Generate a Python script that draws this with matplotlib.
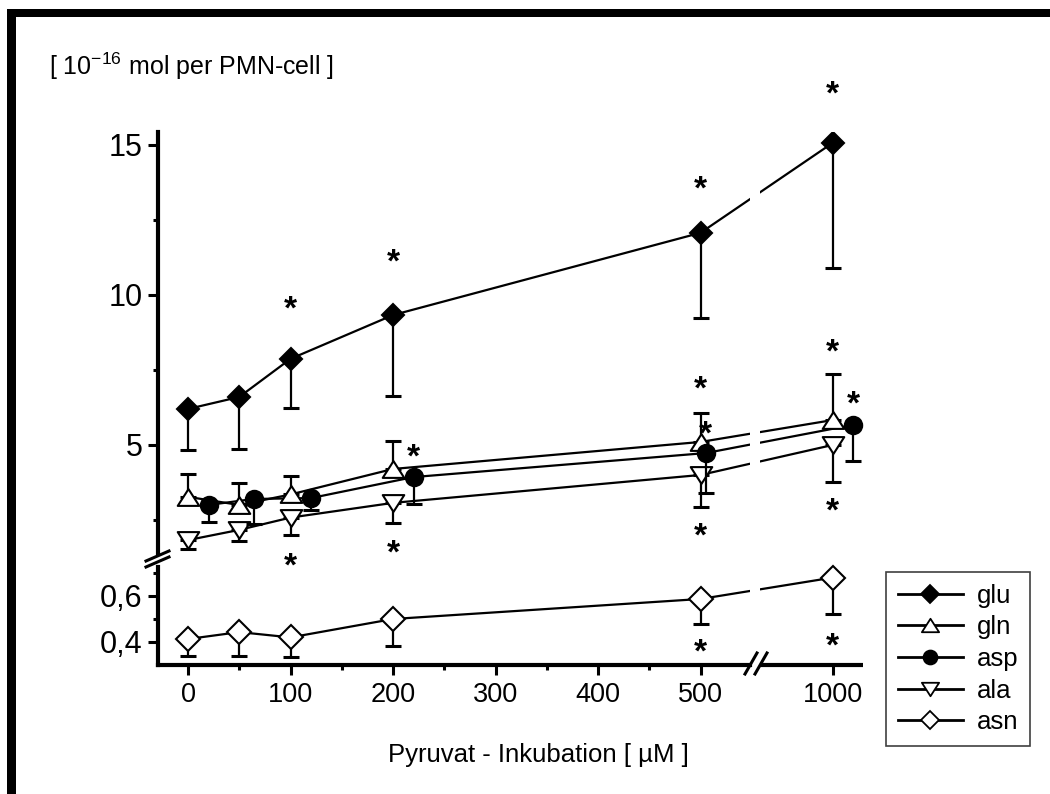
import numpy as np
import matplotlib
matplotlib.use("Agg")
import matplotlib.pyplot as plt
from matplotlib.lines import Line2D
from matplotlib.patches import Rectangle
from matplotlib.path import Path
import matplotlib.transforms as mtransforms

plt.rcParams['font.family'] = ['Liberation Sans', 'DejaVu Sans']
plt.rcParams['mathtext.fontset'] = 'custom'
plt.rcParams['mathtext.rm'] = 'Liberation Sans'
plt.rcParams['mathtext.default'] = 'regular'

# ---------------- data ----------------
x_conc = [0, 50, 100, 200, 500, 1000]
x_asp = [20, 64, 120, 220, 520, 1020]          # asp drawn slightly shifted

glu = [6.20, 6.60, 7.87, 9.33, 12.07, 15.07]
glu_err_lo = [1.37, 1.73, 1.63, 2.70, 2.83, 4.17]

gln = [3.27, 3.00, 3.35, 4.20, 5.10, 5.83]
gln_err_hi = [0.77, 0.72, 0.62, 0.93, 0.97, 1.54]

asp = [3.00, 3.20, 3.23, 3.93, 4.73, 5.67]
asp_err_lo = [0.57, 0.82, 0.40, 0.90, 1.33, 1.20]

ala = [1.83, 2.17, 2.58, 3.07, 4.00, 5.00]
ala_err_lo = [0.30, 0.37, 0.58, 0.67, 1.07, 1.23]

asn = [0.413, 0.443, 0.420, 0.500, 0.587, 0.680]
asn_err_lo = [0.073, 0.103, 0.085, 0.117, 0.107, 0.160]

# significance stars (x, y)
star_x = [100, 200, 500, 1000,      # glu
          500, 1000,                # gln
          220, 520, 1020,           # asp
          100, 200, 500, 1000,      # ala
          500, 1000]                # asn
star_y = [9.83, 11.4, 13.83, 17.0,
          7.17, 8.40,
          4.90, 5.67, 6.67,
          1.21, 1.73, 2.27, 3.10,
          0.396, 0.422]

series_names = ['glu', 'gln', 'asp', 'ala', 'asn']

# ---------------- scales (broken axes) ----------------
Y_LO_TOP, Y_HI_BOT = 0.726, 1.4
F_LO_TOP = (Y_LO_TOP - 0.4) * 230 + 23
F_HI_BOT = 70 + 30 * Y_HI_BOT


def yfwd(y):
    y = np.asarray(y, float)
    mid = F_LO_TOP + (y - Y_LO_TOP) * (F_HI_BOT - F_LO_TOP) / (Y_HI_BOT - Y_LO_TOP)
    return np.where(y <= Y_LO_TOP, (y - 0.4) * 230 + 23,
                    np.where(y >= Y_HI_BOT, 70 + 30 * y, mid))


def yinv(f):
    f = np.asarray(f, float)
    mid = Y_LO_TOP + (f - F_LO_TOP) * (Y_HI_BOT - Y_LO_TOP) / (F_HI_BOT - F_LO_TOP)
    return np.where(f <= F_LO_TOP, (f - 23) / 230 + 0.4,
                    np.where(f >= F_HI_BOT, (f - 70) / 30, mid))


X_SHIFT = 371.0


def xfwd(x):
    x = np.asarray(x, float)
    return np.where(x <= 500, x,
                    np.where(x >= 1000, x - X_SHIFT, 500 + (x - 500) * (1000 - X_SHIFT - 500) / 500))


def xinv(m):
    m = np.asarray(m, float)
    return np.where(m <= 500, m,
                    np.where(m >= 1000 - X_SHIFT, m + X_SHIFT,
                             500 + (m - 500) * 500 / (1000 - X_SHIFT - 500)))


BREAK_X_LO, BREAK_X_HI = 687, 725

# ---------------- figure ----------------
W, H = 1050, 794
fig = plt.figure(figsize=(W / 100, H / 100), dpi=100)
fig.patch.set_facecolor('white')

# frame bars (left and top)
fig.patches.append(Rectangle((7 / W, 0), 9 / W, 1 - 9 / H, transform=fig.transFigure,
                             facecolor='black', edgecolor='none'))
fig.patches.append(Rectangle((7 / W, 1 - 17 / H), 1 - 7 / W, 8 / H, transform=fig.transFigure,
                             facecolor='black', edgecolor='none'))

ax = fig.add_axes([158 / W, (H - 665) / H, 705 / W, 533 / H])
ax.set_xscale('function', functions=(xfwd, xinv))
ax.set_yscale('function', functions=(yfwd, yinv))
ax.set_xlim(-29.3, 1029.5)
ax.set_ylim(0.3, 15.43)

for s in ax.spines.values():
    s.set_visible(False)

SPW = 3.0
tr_y = mtransforms.blended_transform_factory(ax.transAxes, ax.transData)
tr_x = mtransforms.blended_transform_factory(ax.transData, ax.transAxes)
ax.plot([0, 0], [Y_HI_BOT, 15.43], transform=tr_y, color='black', lw=SPW,
        clip_on=False, solid_capstyle='projecting', zorder=5)
ax.plot([0, 0], [0.3, Y_LO_TOP], transform=tr_y, color='black', lw=SPW,
        clip_on=False, solid_capstyle='projecting', zorder=5)
ax.plot([-29.3, BREAK_X_LO], [0, 0], transform=tr_x, color='black', lw=SPW,
        clip_on=False, solid_capstyle='projecting', zorder=5)
ax.plot([BREAK_X_HI, 1029.5], [0, 0], transform=tr_x, color='black', lw=SPW,
        clip_on=False, solid_capstyle='butt', zorder=5)

# break marks (figure pixel coordinates)
def fig_line(p0, p1, lw=2.2):
    fig.add_artist(Line2D([p0[0] / W, p1[0] / W], [1 - p0[1] / H, 1 - p1[1] / H],
                          transform=fig.transFigure, color='black', lw=lw))

fig_line((146, 561), (169, 551))
fig_line((146, 567), (169, 557))
fig_line((745, 674), (757, 653))
fig_line((755, 674), (767, 653))

# ticks
ax.set_yticks([0.4, 0.6, 5, 10, 15])
ax.set_yticklabels(['0,4', '0,6', '5', '10', '15'])
ax.set_yticks([0.5, 0.7, 2.5, 7.5, 12.5], minor=True)
ax.set_xticks([0, 100, 200, 300, 400, 500, 1000])
ax.set_xticklabels(['0', '100', '200', '300', '400', '500', '1000'])
ax.set_xticks([50, 150, 250, 350, 450], minor=True)
ax.tick_params(axis='both', which='major', direction='out', length=7, width=2.2, color='black')
ax.tick_params(axis='both', which='minor', direction='out', length=3.5, width=2.2, color='black')
ax.tick_params(axis='y', which='major', labelsize=22, pad=4)
ax.tick_params(axis='x', which='major', labelsize=19.5, pad=5)

# ---------------- data drawing ----------------
LW = 1.6
up_tri = Path([(0, 0.78), (-1, -0.78), (1, -0.78), (0, 0.78)],
              [Path.MOVETO, Path.LINETO, Path.LINETO, Path.CLOSEPOLY])
down_tri = Path([(0, -0.78), (-1, 0.78), (1, 0.78), (0, -0.78)],
                [Path.MOVETO, Path.LINETO, Path.LINETO, Path.CLOSEPOLY])

specs = [
    ('glu', x_conc, glu, [glu_err_lo, [0] * 6], 'D', 11.5, 'black', 4.0),
    ('gln', x_conc, gln, [[0] * 6, gln_err_hi], up_tri, 15.5, 'white', 3.4),
    ('asp', x_asp, asp, [asp_err_lo, [0] * 6], 'o', 12.5, 'black', 3.6),
    ('ala', x_conc, ala, [ala_err_lo, [0] * 6], down_tri, 15.5, 'white', 3.2),
    ('asn', x_conc, asn, [asn_err_lo, [0] * 6], 'D', 12, 'white', 3.0),
]

handles = []
for name, xs, ys, err, mk, ms, fc, z in specs:
    ax.plot(xs, ys, color='black', lw=LW, zorder=2)
    ax.errorbar(xs, ys, yerr=err, fmt='none', ecolor='black', elinewidth=LW,
                capsize=6, capthick=2.2, zorder=z - 0.05)
    ax.plot(xs, ys, linestyle='none', marker=mk, markersize=ms, markerfacecolor=fc,
            markeredgecolor='black', markeredgewidth=1.5, zorder=z)
    handles.append(Line2D([], [], color='black', lw=2.0, marker=mk, markersize=ms,
                          markerfacecolor=fc, markeredgecolor='black',
                          markeredgewidth=1.3, label=name))

# gap in the lines at the x-axis break
ax.axvspan(BREAK_X_LO, BREAK_X_HI, color='white', zorder=2.5, lw=0)

# significance stars
STAR_FS = 24
star_tr = ax.transData + mtransforms.ScaledTranslation(0, -0.57 * STAR_FS / 72, fig.dpi_scale_trans)
for sx, sy in zip(star_x, star_y):
    ax.text(sx, sy, '*', ha='center', va='baseline', fontsize=STAR_FS, fontweight='bold',
            transform=star_tr, clip_on=False, zorder=6)

# labels
fig.text(49 / W, 1 - 75 / H, r'[ 10$^{-16}$ mol per PMN-cell ]', fontsize=18,
         ha='left', va='baseline')
fig.text(538 / W, 1 - 762 / H, 'Pyruvat - Inkubation [ µM ]', fontsize=18.5,
         ha='center', va='baseline')

# legend
leg = ax.legend(handles=handles, loc='lower left',
                bbox_to_anchor=(886 / W, 1 - 746 / H), bbox_transform=fig.transFigure,
                borderaxespad=0, fontsize=18.5, markerscale=0.8, handlelength=2.55,
                handletextpad=0.55, labelspacing=0.3, borderpad=0.45,
                fancybox=False, framealpha=1, edgecolor='#404040')
leg.get_frame().set_linewidth(1.2)

fig.savefig('out.png', dpi=100, facecolor='white')
